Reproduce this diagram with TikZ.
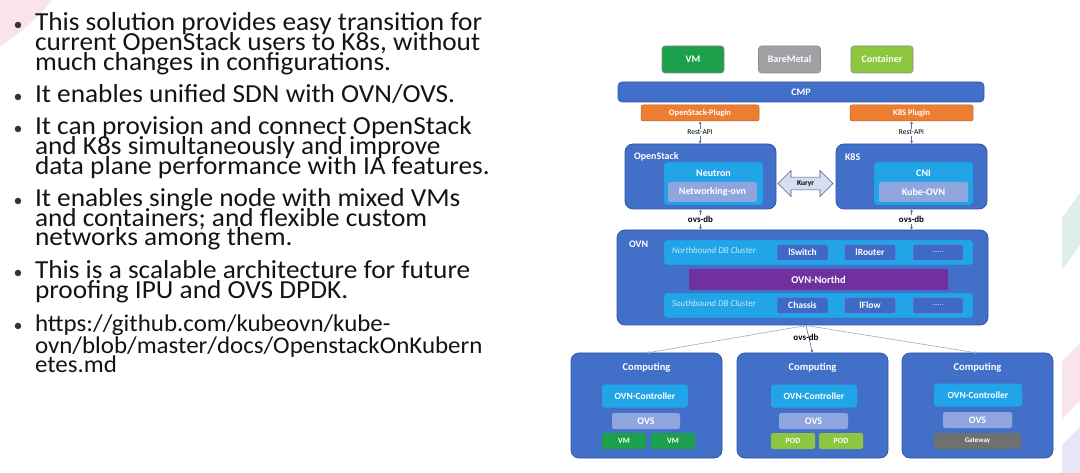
\documentclass[tikz,border=0pt]{standalone}
\usepackage{fontspec}
\usepackage{graphicx}
\setmainfont{Carlito}
\usetikzlibrary{arrows.meta,shapes.arrows}
\definecolor{bmain}{RGB}{66,112,200}
\definecolor{bdark}{RGB}{50,86,165}
\definecolor{lblue}{RGB}{33,165,232}
\definecolor{lav}{RGB}{143,165,222}
\definecolor{cellb}{RGB}{62,106,198}
\definecolor{cellbd}{RGB}{95,140,215}
\definecolor{purp}{RGB}{112,48,160}
\definecolor{orng}{RGB}{237,125,49}
\definecolor{gvm}{RGB}{28,160,75}
\definecolor{gct}{RGB}{141,198,63}
\definecolor{gbm}{RGB}{160,160,165}
\definecolor{ggw}{RGB}{112,112,112}
\definecolor{kfill}{RGB}{214,222,240}
\definecolor{kdraw}{RGB}{70,90,140}
\definecolor{arr}{RGB}{90,110,170}
\definecolor{arr2}{RGB}{165,165,200}
\definecolor{bgpink}{RGB}{249,228,236}
\definecolor{bggreen}{RGB}{222,239,233}
\definecolor{bglav}{RGB}{230,230,246}
\newcommand\wideline[1]{\scalebox{1.05}[1]{#1}}
\newcommand\wideurl[1]{\scalebox{1.04}[1]{#1}}
\begin{document}
\begin{tikzpicture}[x=1pt,y=-1pt,
  every node/.style={inner sep=0pt, outer sep=0pt},
  outerbox/.style={draw=bdark, fill=bmain, line width=0.8pt, rounded corners=8pt},
  innerbox/.style={fill=lblue, draw=lblue!80!black, line width=0.4pt, rounded corners=3pt},
  lavbox/.style={fill=lav, rounded corners=2pt, text=white, font=\fontsize{10}{10}\selectfont\bfseries},
  cell/.style={fill=cellb, draw=cellbd, line width=0.5pt, rounded corners=2pt, text=white, font=\fontsize{9.5}{10}\selectfont\bfseries, minimum width=51, minimum height=16},
  topbox/.style={draw=black!45, line width=0.6pt, rounded corners=3pt, text=white, font=\fontsize{10}{10}\selectfont\bfseries, minimum width=62, minimum height=27},
  plug/.style={fill=orng, draw=orng!80!black, line width=0.5pt, rounded corners=2pt, text=white, font=\fontsize{8.5}{9}\selectfont\bfseries, minimum height=16},
  wlabel/.style={text=white, font=\fontsize{10}{10}\selectfont\bfseries},
  slabel/.style={text=white, font=\fontsize{9.5}{10}\selectfont\bfseries},
  conn/.style={draw=arr, line width=0.6pt, {Latex[length=3pt,width=3pt]}-{Latex[length=3pt,width=3pt]}},
  conn2/.style={draw=arr2, line width=0.6pt},
  dblabel/.style={fill=white, inner sep=1pt, font=\fontsize{9}{9}\selectfont\bfseries},
  restlabel/.style={fill=white, inner sep=1pt, font=\fontsize{7.5}{8}\selectfont},
  itlabel/.style={text=white!75!lblue, font=\fontsize{9}{9}\selectfont\itshape, anchor=west},
  small/.style={rounded corners=2pt, text=white, font=\fontsize{8}{8}\selectfont\bfseries, minimum width=44, minimum height=16},
  btxt/.style={anchor=base west, font=\fontsize{26}{25}\selectfont, text=black!92},
  utxt/.style={anchor=base west, font=\fontsize{24}{23}\selectfont, text=black!92},
  bdot/.style={anchor=base, font=\fontsize{18}{18}\selectfont, text=black!80}
]
\useasboundingbox (0,0) rectangle (1080,473);
\fill[white] (0,0) rectangle (1080,473);
% background decorations
\fill[bgpink] (0,0) -- (52,0) .. controls (38,18) and (20,34) .. (0,46) -- cycle;
\fill[bggreen] (1062,218) -- (1080,193) -- (1080,245) -- (1062,270) -- cycle;
\fill[bgpink] (1062,362) -- (1080,343) -- (1080,400) -- (1062,420) -- cycle;
\fill[bglav] (1062,445) -- (1080,427) -- (1080,473) -- (1062,473) -- cycle;

% bullets
\node[bdot] (d1) at (18,31) {•};
\node[btxt] (t11) at (35,31) {\wideline{This solution provides easy transition for}};
\node[btxt] (t12) at (35,51) {\wideline{current OpenStack users to K8s, without}};
\node[btxt] (t13) at (35,71) {\wideline{much changes in configurations.}};
\node[bdot] (d2) at (18,103) {•};
\node[btxt] (t21) at (35,103) {\wideline{It enables unified SDN with OVN/OVS.}};
\node[bdot] (d3) at (18,135) {•};
\node[btxt] (t31) at (35,135) {\wideline{It can provision and connect OpenStack}};
\node[btxt] (t32) at (35,155) {\wideline{and K8s simultaneously and improve}};
\node[btxt] (t33) at (35,175) {\wideline{data plane performance with IA features.}};
\node[bdot] (d4) at (18,207) {•};
\node[btxt] (t41) at (35,207) {\wideline{It enables single node with mixed VMs}};
\node[btxt] (t42) at (35,227) {\wideline{and containers; and flexible custom}};
\node[btxt] (t43) at (35,246) {\wideline{networks among them.}};
\node[bdot] (d5) at (18,279) {•};
\node[btxt] (t51) at (35,279) {\wideline{This is a scalable architecture for future}};
\node[btxt] (t52) at (35,299) {\wideline{proofing IPU and OVS DPDK.}};
\node[bdot] (d6) at (18,332) {•};
\node[utxt] (t61) at (35,332) {\wideurl{https://github.com/kubeovn/kube-}};
\node[utxt] (t62) at (35,353) {\wideurl{ovn/blob/master/docs/OpenstackOnKubern}};
\node[utxt] (t63) at (35,373) {\wideurl{etes.md}};

% top row
\node[topbox, fill=gvm] (vm) at (693,59.5) {VM};
\node[topbox, fill=gbm] (bm) at (789.5,59.5) {BareMetal};
\node[topbox, fill=gct] (ct) at (882,59.5) {Container};
\node[fill=bmain, draw=bdark, line width=0.6pt, rounded corners=4pt, minimum width=366, minimum height=20, wlabel] (cmp) at (801,92) {CMP};
\node[plug, minimum width=118] (plugos) at (700,113) {OpenStack-Plugin};
\node[plug, minimum width=123] (plugk) at (911.5,113) {K8S Plugin};

% OpenStack
\node[outerbox, minimum width=151, minimum height=65] (os) at (700.5,176.5) {};
\node[wlabel, anchor=west] (oslab) at (634,157) {OpenStack};
\node[innerbox, minimum width=99, minimum height=43] (neutron) at (713.5,183.5) {};
\node[wlabel] (neutlab) at (713.5,173) {Neutron};
\node[lavbox, minimum width=89, minimum height=20] (netovn) at (712.5,192) {Networking-ovn};

% K8S
\node[outerbox, minimum width=151, minimum height=65] (k8s) at (911.5,176.5) {};
\node[wlabel, anchor=west] (k8slab) at (845,157) {K8S};
\node[innerbox, minimum width=99, minimum height=43] (cni) at (923.5,183.5) {};
\node[wlabel] (cnilab) at (923.5,173) {CNI};
\node[lavbox, minimum width=89, minimum height=20] (kubeovn) at (923.5,192) {Kube-OVN};

% Kuryr
\node[double arrow, draw=kdraw, fill=kfill, line width=0.6pt, minimum width=26, minimum height=55, double arrow head extend=6pt, double arrow head indent=0pt, inner sep=2.5pt, font=\fontsize{7.5}{8}\selectfont\bfseries] (kuryr) at (805.5,183.5) {Kuryr};

% OVN
\node[outerbox, minimum width=371, minimum height=95] (ovn) at (802.5,277.5) {};
\node[wlabel, anchor=west] (ovnlab) at (629,244) {OVN};
\node[innerbox, minimum width=309, minimum height=25] (nb) at (818.5,252.5) {};
\node[itlabel] (nblab) at (672,250) {Northbound DB Cluster};
\node[cell] (lsw) at (802.5,252.5) {lSwitch};
\node[cell] (lrt) at (870,252.5) {lRouter};
\node[cell, minimum width=50, font=\fontsize{7}{7}\selectfont] (nbdots) at (938,252.5) {......};
\node[fill=purp, rounded corners=2pt, minimum width=259, minimum height=21, text=white, font=\fontsize{10.5}{11}\selectfont\bfseries] (northd) at (818.5,279.5) {OVN-Northd};
\node[innerbox, minimum width=309, minimum height=25] (sb) at (818.5,305.5) {};
\node[itlabel] (sblab) at (672,303) {Southbound DB Cluster};
\node[cell] (chassis) at (802.5,305.5) {Chassis};
\node[cell] (lflow) at (870,305.5) {lFlow};
\node[cell, minimum width=50, font=\fontsize{7}{7}\selectfont] (sbdots) at (938,305.5) {......};

% Computing
\foreach \n/\cx in {c1/646.5, c2/812.5, c3/977.5}{
  \node[outerbox, minimum width=151, minimum height=105] (\n) at (\cx,405.5) {};
  \node[wlabel, font=\fontsize{10.5}{11}\selectfont\bfseries] (\n lab) at (\cx,368) {Computing};
}
\node[innerbox, draw=none, minimum width=86, minimum height=23, slabel] (ctl1) at (645,396) {OVN-Controller};
\node[innerbox, draw=none, minimum width=86, minimum height=23, slabel] (ctl2) at (814,396) {OVN-Controller};
\node[innerbox, draw=none, minimum width=88, minimum height=23, slabel] (ctl3) at (978,395) {OVN-Controller};
\node[lavbox, minimum width=68, minimum height=16] (ovs1) at (646,421) {OVS};
\node[lavbox, minimum width=69, minimum height=16] (ovs2) at (813.5,421) {OVS};
\node[lavbox, minimum width=69, minimum height=16] (ovs3) at (977.5,420) {OVS};
\node[small, fill=gvm] (vm1) at (624,441) {VM};
\node[small, fill=gvm] (vm2) at (673,441) {VM};
\node[small, fill=gct] (pod1) at (793,441) {POD};
\node[small, fill=gct] (pod2) at (841,441) {POD};
\node[small, fill=ggw, minimum width=87, font=\fontsize{7}{7}\selectfont\bfseries] (gw) at (977.5,441) {Gateway};

% connectors
\draw[conn] (plugos.south) -- (plugos.south |- os.north) node[restlabel, midway] (r1) {Rest-API};
\draw[conn] (plugk.south) -- (plugk.south |- k8s.north) node[restlabel, midway] (r2) {Rest-API};
\draw[conn] (os.south) -- (os.south |- ovn.north) node[dblabel, midway] (db1) {ovs-db};
\draw[conn] (k8s.south) -- (k8s.south |- ovn.north) node[dblabel, midway] (db2) {ovs-db};
\coordinate (hub) at (806,325.5);
\draw[conn2, {Latex[length=3pt,width=3pt]}-{Latex[length=3pt,width=3pt]}] (hub) -- (c1.north);
\draw[conn2, -{Latex[length=3pt,width=3pt]}] (hub) -- (c3.north);
\draw[conn2, -{Latex[length=3pt,width=3pt]}, draw=arr] (hub) -- (c2.north);
\node[dblabel, fill=none] (db3) at (806,337) {ovs-db};
\end{tikzpicture}
\end{document}
